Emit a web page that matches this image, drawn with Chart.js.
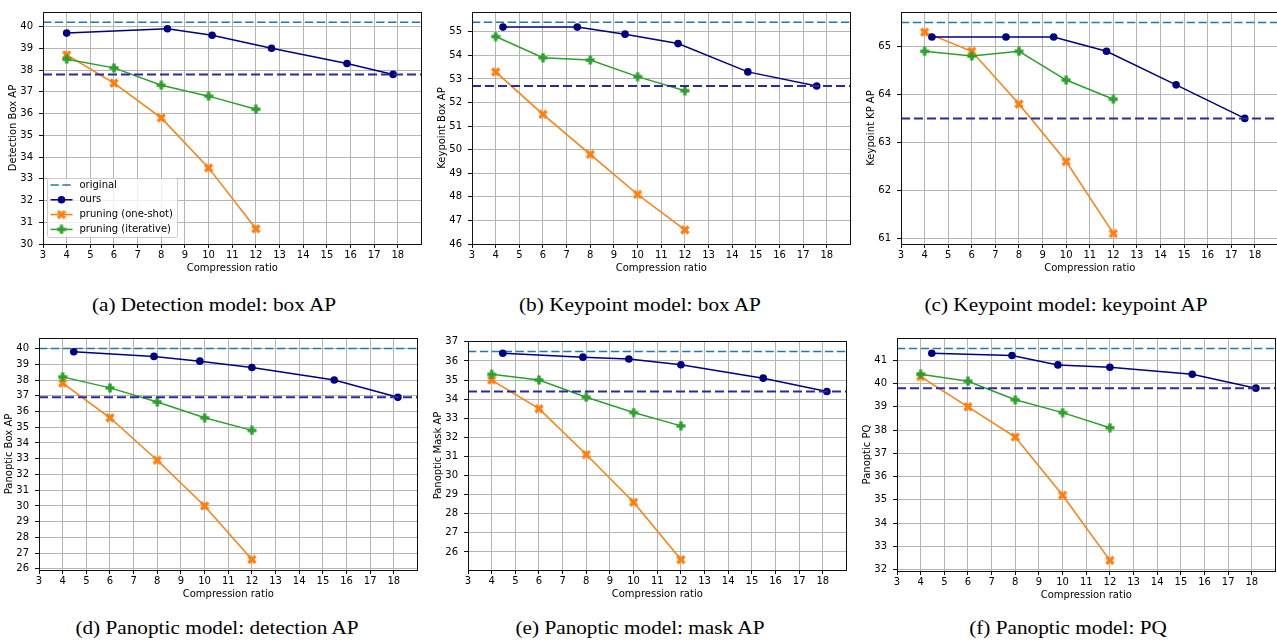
<!DOCTYPE html>
<html>
<head>
<meta charset="utf-8">
<script src="https://cdn.jsdelivr.net/npm/chart.js@4.4.0/dist/chart.umd.min.js"></script>
<style>
  html, body { margin: 0; padding: 0; background: #fff; }
  body { position: relative; width: 1277px; height: 644px; overflow: hidden; }
  canvas { position: absolute; }
  .caption {
    position: absolute; width: 420px; height: 18px; line-height: 18px;
    font-family: "Liberation Serif", "Times New Roman", serif; font-size: 18px;
    color: #000; text-align: center; white-space: nowrap;
    transform: scaleX(1.18); transform-origin: center;
  }
</style>
</head>
<body>
<script>
// ---- data ----
const xTicks = [3, 4, 5, 6, 7, 8, 9, 10, 11, 12, 13, 14, 15, 16, 17, 18];
const pruneRatio = [4, 6, 8, 10, 12];

// (a) detection model
const detOursRatio = [4.0, 8.26, 10.15, 12.66, 15.85, 17.8];
const detBoxOurs = [39.7, 39.9, 39.6, 39.0, 38.3, 37.8];
const detBoxOneShot = [38.7, 37.4, 35.8, 33.5, 30.7];
const detBoxIter = [38.5, 38.1, 37.3, 36.8, 36.2];
const detBoxTicks = [30, 31, 32, 33, 34, 35, 36, 37, 38, 39, 40];

// (b), (c) keypoint model
const kpOursRatio = [4.31, 7.45, 9.47, 11.71, 14.66, 17.57];
const kpBoxOurs = [55.2, 55.2, 54.9, 54.5, 53.3, 52.7];
const kpBoxOneShot = [53.3, 51.5, 49.8, 48.1, 46.6];
const kpBoxIter = [54.8, 53.9, 53.8, 53.1, 52.5];
const kpBoxTicks = [46, 47, 48, 49, 50, 51, 52, 53, 54, 55];
const kpKpOurs = [65.2, 65.2, 65.2, 64.9, 64.2, 63.5];
const kpKpOneShot = [65.3, 64.9, 63.8, 62.6, 61.1];
const kpKpIter = [64.9, 64.8, 64.9, 64.3, 63.9];
const kpKpTicks = [61, 62, 63, 64, 65];

// (d), (e), (f) panoptic model
const panOursRatio = [4.47, 7.86, 9.8, 12.0, 15.48, 18.17];
const panBoxOurs = [39.8, 39.5, 39.2, 38.8, 38.0, 36.9];
const panBoxOneShot = [37.8, 35.6, 32.9, 30.0, 26.6];
const panBoxIter = [38.2, 37.5, 36.6, 35.6, 34.8];
const panBoxTicks = [26, 27, 28, 29, 30, 31, 32, 33, 34, 35, 36, 37, 38, 39, 40];
const panMaskOurs = [36.4, 36.2, 36.1, 35.8, 35.1, 34.4];
const panMaskOneShot = [35.0, 33.5, 31.1, 28.6, 25.6];
const panMaskIter = [35.3, 35.0, 34.1, 33.3, 32.6];
const panMaskTicks = [26, 27, 28, 29, 30, 31, 32, 33, 34, 35, 36, 37];
const panPQOurs = [41.3, 41.2, 40.8, 40.7, 40.4, 39.8];
const panPQOneShot = [40.3, 39.0, 37.7, 35.2, 32.4];
const panPQIter = [40.4, 40.1, 39.3, 38.75, 38.1];
const panPQTicks = [32, 33, 34, 35, 36, 37, 38, 39, 40, 41];

// horizontal reference lines per panel (a..f)
const originalAP = [40.2, 55.4, 65.5, 40.0, 36.5, 41.5];
const targetAP = [37.8, 52.7, 63.5, 36.9, 34.4, 39.8];

const yTitles = ["Detection Box AP", "Keypoint Box AP", "Keypoint KP AP",
                 "Panoptic Box AP", "Panoptic Mask AP", "Panoptic PQ"];
const captions = ["(a) Detection model: box AP", "(b) Keypoint model: box AP",
                  "(c) Keypoint model: keypoint AP", "(d) Panoptic model: detection AP",
                  "(e) Panoptic model: mask AP", "(f) Panoptic model: PQ"];
const seriesNames = ["original", "ours", "pruning (one-shot)", "pruning (iterative)"];

// ---- layout ----
const xMin = 3, xMax = 19;
const panels = [
  { rx: detOursRatio, ours: detBoxOurs, one: detBoxOneShot, it: detBoxIter, ticks: detBoxTicks,
    yMin: 30, yMax: 40.67, rect: [43, 7, 423, 244], cap: [214, 296], legend: true },
  { rx: kpOursRatio, ours: kpBoxOurs, one: kpBoxOneShot, it: kpBoxIter, ticks: kpBoxTicks,
    yMin: 46, yMax: 55.84, rect: [472, 7, 852, 244], cap: [640, 296] },
  { rx: kpOursRatio, ours: kpKpOurs, one: kpKpOneShot, it: kpKpIter, ticks: kpKpTicks,
    yMin: 60.88, yMax: 65.72, rect: [901, 7, 1280, 244], cap: [1066, 296] },
  { rx: panOursRatio, ours: panBoxOurs, one: panBoxOneShot, it: panBoxIter, ticks: panBoxTicks,
    yMin: 25.93, yMax: 40.67, rect: [39, 333, 419, 570], cap: [217, 619] },
  { rx: panOursRatio, ours: panMaskOurs, one: panMaskOneShot, it: panMaskIter, ticks: panMaskTicks,
    yMin: 25.055, yMax: 37.045, rect: [468, 336, 848, 570], cap: [640, 619] },
  { rx: panOursRatio, ours: panPQOurs, one: panPQOneShot, it: panPQIter, ticks: panPQTicks,
    yMin: 31.945, yMax: 41.955, rect: [897, 333, 1277, 571], cap: [1068, 619] }
];

const NAVY = "#000080", ORANGE = "#ff7f0e", GREEN = "#2ca02c", C0 = "#1f77b4";

// filled "X" and "P" markers like matplotlib
function xMarker(color) {
  const c = document.createElement("canvas");
  c.width = 10; c.height = 10;
  const g = c.getContext("2d");
  g.strokeStyle = color; g.lineWidth = 3.3;
  g.beginPath();
  g.moveTo(1.5, 1.5); g.lineTo(8.5, 8.5);
  g.moveTo(8.5, 1.5); g.lineTo(1.5, 8.5);
  g.stroke();
  return c;
}
function plusMarker(color) {
  const c = document.createElement("canvas");
  c.width = 10; c.height = 10;
  const g = c.getContext("2d");
  g.fillStyle = color;
  g.fillRect(0.5, 3.3, 9, 3.4);
  g.fillRect(3.3, 0.5, 3.4, 9);
  return c;
}
const xImg = xMarker(ORANGE), pImg = plusMarker(GREEN);

// box around plot area (matplotlib spines)
const frame = {
  id: "frame",
  afterDatasetsDraw(chart) {
    const a = chart.chartArea, ctx = chart.ctx;
    const l = Math.round(a.left - 0.5) + 0.5, r = Math.round(a.right - 0.5) + 0.5;
    const t = Math.round(a.top - 0.5) + 0.5, b = Math.round(a.bottom - 0.5) + 0.5;
    ctx.save();
    ctx.strokeStyle = "#111"; ctx.lineWidth = 1;
    ctx.strokeRect(l, t, r - l, b - t);
    ctx.restore();
  }
};

// legend inside lower-left of panel (a)
const insideLegend = {
  id: "insideLegend",
  afterDraw(chart, args, opts) {
    if (!opts.show) return;
    const ctx = chart.ctx, a = chart.chartArea;
    const items = chart.data.datasets.filter(d => d.label);
    const bx = Math.round(a.left) + 4.5, by = Math.round(a.bottom) - 65.5;
    ctx.save();
    ctx.fillStyle = "rgba(255,255,255,0.8)";
    ctx.strokeStyle = "#cccccc"; ctx.lineWidth = 1;
    ctx.beginPath(); ctx.roundRect(bx, by, 130, 59, 2); ctx.fill(); ctx.stroke();
    items.forEach((d, i) => {
      const y = by + 6.5 + i * 14.8;
      ctx.strokeStyle = d.borderColor; ctx.lineWidth = d.borderWidth;
      ctx.setLineDash(d.borderDash || []);
      ctx.beginPath(); ctx.moveTo(bx + 3, y); ctx.lineTo(bx + 25, y); ctx.stroke();
      ctx.setLineDash([]);
      const mx = bx + 14;
      if (d.pointStyle instanceof HTMLCanvasElement) {
        ctx.drawImage(d.pointStyle, mx - 5, y - 5);
      } else if (d.pointRadius > 0) {
        ctx.fillStyle = d.pointBackgroundColor;
        ctx.beginPath(); ctx.arc(mx, y, d.pointRadius, 0, Math.PI * 2); ctx.fill();
      }
      ctx.fillStyle = "#000"; ctx.font = '10px "DejaVu Sans"';
      ctx.textBaseline = "middle"; ctx.textAlign = "left";
      ctx.fillText(d.label, bx + 32, y);
    });
    ctx.restore();
  }
};

Chart.defaults.font.family = '"DejaVu Sans", sans-serif';
Chart.defaults.font.size = 10;
Chart.defaults.color = "#000";

const Y_W = 40, X_H = 34, PAD_T = 7, PAD_R = 5;

panels.forEach((p, k) => {
  const [L, T, R, B] = p.rect;
  const cv = document.createElement("canvas");
  cv.width = R - L + Y_W + PAD_R;
  cv.height = B - T + PAD_T + X_H;
  cv.style.left = (L - Y_W) + "px";
  cv.style.top = (T - PAD_T) + "px";
  cv.style.width = cv.width + "px";
  cv.style.height = cv.height + "px";
  document.body.appendChild(cv);

  const zip = (xs, ys) => ys.map((y, i) => ({ x: xs[i], y: y }));

  new Chart(cv, {
    type: "line",
    data: {
      datasets: [
        { label: seriesNames[0], data: zip([xMin, xMax], [originalAP[k], originalAP[k]]),
          borderColor: C0, borderWidth: 1.5, borderDash: [8.3, 3.6], pointRadius: 0, order: 5 },
        { label: "", data: zip([xMin, xMax], [targetAP[k], targetAP[k]]),
          borderColor: "#2a2a9e", borderWidth: 2, borderDash: [9, 4], pointRadius: 0, order: 0 },
        { label: seriesNames[1], data: zip(p.rx, p.ours),
          borderColor: NAVY, borderWidth: 1.5, pointRadius: 3.8, pointBorderWidth: 0,
          pointBackgroundColor: NAVY, order: 1 },
        { label: seriesNames[2], data: zip(pruneRatio, p.one),
          borderColor: ORANGE, borderWidth: 1.5, pointStyle: xImg, pointRadius: 5, order: 3 },
        { label: seriesNames[3], data: zip(pruneRatio, p.it),
          borderColor: GREEN, borderWidth: 1.5, pointStyle: pImg, pointRadius: 5, order: 2 }
      ]
    },
    options: {
      responsive: false,
      devicePixelRatio: 1,
      animation: false,
      layout: { padding: { top: PAD_T, right: PAD_R, left: 0, bottom: 0 } },
      plugins: {
        legend: { display: false },
        tooltip: { enabled: false },
        insideLegend: { show: !!p.legend }
      },
      scales: {
        x: {
          type: "linear", min: xMin, max: xMax,
          afterBuildTicks: s => { s.ticks = xTicks.map(v => ({ value: v })); },
          afterFit: s => { s.height = X_H; },
          ticks: { autoSkip: false, maxRotation: 0, padding: 1 },
          grid: { color: "#b5b5b5", lineWidth: 1, tickLength: 4, tickColor: "#111" },
          border: { display: false },
          title: { display: true, text: "Compression ratio", padding: { top: 0, bottom: 4 } }
        },
        y: {
          min: p.yMin, max: p.yMax,
          afterBuildTicks: s => { s.ticks = p.ticks.map(v => ({ value: v })); },
          afterFit: s => { s.width = Y_W; },
          ticks: { autoSkip: false, padding: 6 },
          grid: { color: "#b5b5b5", lineWidth: 1, tickLength: 4, tickColor: "#111" },
          border: { display: false },
          title: { display: true, text: yTitles[k], padding: { top: 4, bottom: 0 } }
        }
      }
    },
    plugins: [frame, insideLegend]
  });

  const cap = document.createElement("div");
  cap.className = "caption";
  cap.textContent = captions[k];
  cap.style.left = (p.cap[0] - 210) + "px";
  cap.style.top = p.cap[1] + "px";
  document.body.appendChild(cap);
});
</script>
</body>
</html>
